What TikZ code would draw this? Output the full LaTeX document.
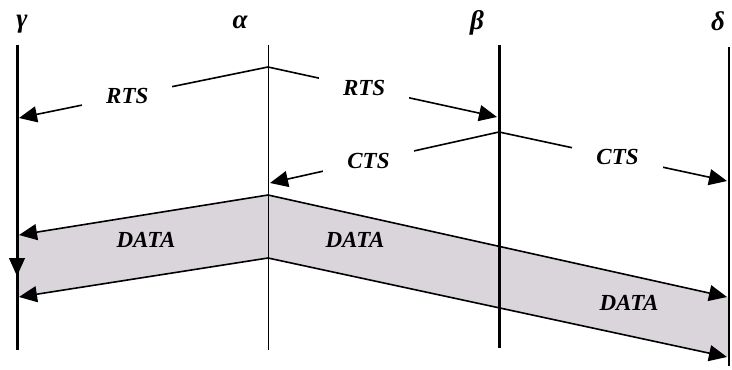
\documentclass[tikz,border=0pt]{standalone}
\usepackage{fontspec}
\setmainfont{Liberation Serif}
\usepackage{tikz}
\usetikzlibrary{arrows.meta}
\definecolor{BandGray}{RGB}{217,213,219}
\tikzset{
	station/.style={draw=black,line width=3pt},
	thinstation/.style={draw=black,line width=1pt},
	msg/.style={draw=black,line width=1.6pt,-{Triangle[length=18pt,width=16pt]}},
	tag/.style={font=\bfseries\itshape\fontsize{23}{26}\selectfont},
	gap/.style={tag,fill=white,inner xsep=24pt,inner ysep=3pt},
	greek/.style={font=\bfseries\itshape\fontsize{27}{30}\selectfont},
}

\begin{document}
\begin{tikzpicture}[x=1pt,y=-1pt]
			\useasboundingbox (0,0) rectangle (732,370);
			% stations
			\coordinate (gT) at (17,45);   \coordinate (gB) at (17,350);
			\coordinate (aT) at (268,45);  \coordinate (aB) at (268,350);
			\coordinate (bT) at (499,45);  \coordinate (bB) at (499,348);
			\coordinate (dT) at (729,47);  \coordinate (dB) at (729,366);
			% RTS and CTS events
			\coordinate (aRts) at (268,67);
			\coordinate (gRts) at (19,118);
			\coordinate (bRts) at (497,117);
			\coordinate (bCts) at (499,132);
			\coordinate (aCts) at (270,183);
			\coordinate (dCts) at (727,181);
			% DATA band
			\coordinate (aUp) at (268,195);
			\coordinate (aLo) at (268,258);
			\coordinate (gUp) at (19,235);
			\coordinate (gLo) at (19,297);
			\coordinate (dUp) at (727,297);
			\coordinate (dLo) at (727,357);
			\fill[BandGray] (17,235) -- (aUp) -- (729,297) -- (729,357) -- (aLo) -- (17,297) -- cycle;
			\draw[station] (gT) -- (gB);
			\draw[thinstation] (aT) -- (aB);
			\draw[station] (bT) -- (bB);
			\draw[station,line width=2.5pt] (dT) -- (dB);
			\draw[msg] (aRts) -- node[gap,pos=0.565] (rtsL) {RTS} (gRts);
			\draw[msg] (aRts) -- node[gap,pos=0.42] (rtsR) {RTS} (bRts);
			\draw[msg] (bCts) -- node[gap,pos=0.57] (ctsL) {CTS} (aCts);
			\draw[msg] (bCts) -- node[gap,pos=0.52] (ctsR) {CTS} (dCts);
			\draw[msg] (aUp) -- (gUp);
			\draw[msg] (aLo) -- (gLo);
			\draw[msg] (aUp) -- (dUp);
			\draw[msg] (aLo) -- (dLo);
			\draw[msg,line width=1pt] (17,254) -- (17,276);
			\node[tag] (dataL) at (146,240) {DATA};
			\node[tag] (dataM) at (355,240) {DATA};
			\node[tag] (dataR) at (629,303) {DATA};
			\node[greek] (gam) at (22,24) {γ};
			\node[greek] (alp) at (240,22) {α};
			\node[greek] (bet) at (477,23) {β};
			\node[greek] (del) at (718,21) {δ};
		\end{tikzpicture}
\end{document}
